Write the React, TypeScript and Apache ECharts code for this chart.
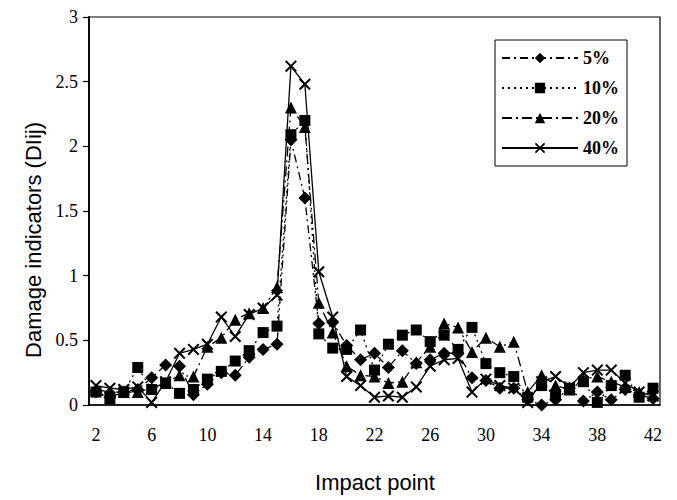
import React, { useEffect, useRef } from "react";
import * as echarts from "echarts";

const impactPoints: string[] = [];
for (let i = 2; i <= 42; i++) impactPoints.push(String(i));

const seriesNames = ["5%", "10%", "20%", "40%"];

const dmg5 = [0.10, 0.06, 0.10, 0.12, 0.21, 0.31, 0.30, 0.08, 0.16, 0.25, 0.23, 0.37, 0.43, 0.47, 2.05, 1.60, 0.63, 0.64, 0.46, 0.35, 0.40, 0.29, 0.42, 0.32, 0.35, 0.40, 0.40, 0.21, 0.19, 0.13, 0.13, 0.04, 0.00, 0.04, 0.13, 0.03, 0.10, 0.04, 0.12, 0.08, 0.05];
const dmg10 = [0.10, 0.05, 0.10, 0.29, 0.12, 0.17, 0.09, 0.12, 0.20, 0.26, 0.34, 0.42, 0.56, 0.61, 2.09, 2.20, 0.55, 0.44, 0.43, 0.58, 0.27, 0.47, 0.54, 0.58, 0.49, 0.54, 0.43, 0.60, 0.32, 0.25, 0.22, 0.06, 0.15, 0.08, 0.13, 0.18, 0.02, 0.15, 0.23, 0.06, 0.13];
const dmg20 = [0.12, 0.10, 0.10, 0.10, 0.13, 0.17, 0.23, 0.22, 0.45, 0.52, 0.66, 0.71, 0.75, 0.91, 2.30, 2.15, 0.79, 0.56, 0.30, 0.23, 0.22, 0.17, 0.18, 0.33, 0.45, 0.63, 0.60, 0.41, 0.52, 0.45, 0.49, 0.10, 0.23, 0.15, 0.12, 0.20, 0.22, 0.18, 0.14, 0.10, 0.08];
const dmg40 = [0.15, 0.13, 0.12, 0.14, 0.02, 0.18, 0.40, 0.43, 0.47, 0.68, 0.53, 0.70, 0.75, 0.85, 2.62, 2.48, 1.03, 0.68, 0.22, 0.15, 0.06, 0.07, 0.06, 0.14, 0.30, 0.35, 0.36, 0.10, 0.20, 0.15, 0.13, 0.02, 0.18, 0.22, 0.14, 0.25, 0.27, 0.27, 0.17, 0.10, 0.07];

const crossPath =
  "path://M0,1.2L1.2,0L10,8.8L8.8,10Z M8.8,0L10,1.2L1.2,10L0,8.8Z";

const serif = "'Liberation Serif', 'Times New Roman', serif";
const sans = "'Liberation Sans', Arial, sans-serif";

export default function App() {
  const ref = useRef<HTMLDivElement>(null);
  useEffect(() => {
    document.body.style.margin = "0";
    if (!ref.current) return;
    const chart = echarts.init(ref.current, undefined, { renderer: "svg" });
    const mk = (
      name: string,
      data: number[],
      symbol: string,
      size: number,
      dash: any
    ) => ({
      name,
      type: "line",
      data,
      symbol,
      symbolSize: size,
      showAllSymbol: true,
      itemStyle: { color: "#000" },
      lineStyle: { color: "#000", width: 1.3, type: dash },
    });
    chart.setOption({
      animation: false,
      backgroundColor: "#fff",
      grid: {
        left: 89,
        right: 17,
        top: 17,
        bottom: 95,
        show: true,
        borderColor: "#000",
        borderWidth: 1.2,
      },
      legend: {
        orient: "vertical",
        left: 495,
        top: 40,
        data: seriesNames,
        itemWidth: 76,
        itemHeight: 13,
        itemGap: 12,
        padding: [9, 8, 9, 6],
        borderColor: "#000",
        borderWidth: 1,
        backgroundColor: "#fff",
        textStyle: {
          fontFamily: serif,
          fontWeight: "bold",
          fontSize: 18,
          color: "#000",
        },
      },
      xAxis: {
        type: "category",
        data: impactPoints,
        boundaryGap: true,
        axisLine: { lineStyle: { color: "#000", width: 1.5 } },
        axisTick: {
          interval: 1,
          length: 6,
          lineStyle: { color: "#000", width: 1.2 },
        },
        axisLabel: {
          interval: 3,
          margin: 21,
          fontFamily: serif,
          fontSize: 18,
          color: "#000",
        },
        splitLine: { show: false },
      },
      yAxis: {
        type: "value",
        min: 0,
        max: 3,
        interval: 0.5,
        axisLine: { show: true, lineStyle: { color: "#000", width: 1.8 } },
        axisTick: {
          show: true,
          length: 6,
          lineStyle: { color: "#000", width: 1.2 },
        },
        axisLabel: {
          margin: 11,
          fontFamily: serif,
          fontSize: 18,
          color: "#000",
        },
        splitLine: { show: false },
      },
      graphic: [
        {
          type: "text",
          x: 33,
          y: 240,
          rotation: Math.PI / 2,
          style: {
            text: "Damage indicators (DIij)",
            font: `22px ${sans}`,
            fill: "#000",
            textAlign: "center",
            textVerticalAlign: "middle",
          },
        },
        {
          type: "text",
          x: 375,
          y: 482,
          style: {
            text: "Impact point",
            font: `22px ${sans}`,
            fill: "#000",
            textAlign: "center",
            textVerticalAlign: "middle",
          },
        },
      ],
      series: [
        mk("5%", dmg5, "diamond", 13, [8, 4, 2, 4]),
        mk("10%", dmg10, "rect", 11, [2, 4]),
        mk("20%", dmg20, "triangle", 12, [10, 4, 2, 4]),
        mk("40%", dmg40, crossPath, 12, "solid"),
      ],
    });
    return () => chart.dispose();
  }, []);
  return <div ref={ref} style={{ width: 677, height: 500 }} />;
}
